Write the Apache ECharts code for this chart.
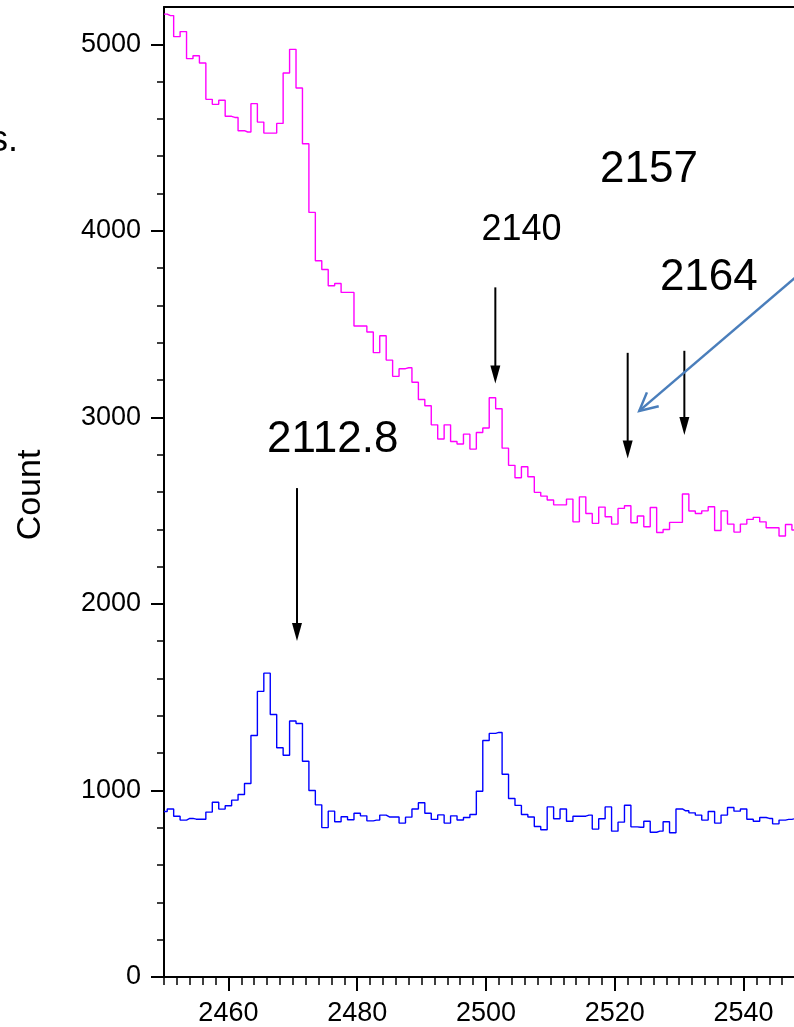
<!DOCTYPE html>
<html>
<head>
<meta charset="utf-8">
<script src="https://cdn.jsdelivr.net/npm/echarts@6/dist/echarts.min.js"></script>
<style>
html,body{margin:0;padding:0;background:#fff;}
#chart{width:794px;height:1027px;}
</style>
</head>
<body>
<div id="chart"></div>
<script>
// ---- data ----
const binStart = 2450; // first channel (bins are 1 channel wide, centred on integers)
const upperCounts = [
 5162,5154,5041,5068,4923,4939,4900,4705,4678,4700,
 4614,4608,4537,4530,4682,4583,4524,4524,4576,4846,
 4973,4766,4467,4099,3840,3793,3706,3718,3670,3670,
 3490,3490,3458,3347,3438,3307,3220,3261,3266,3188,
 3096,3062,2960,2884,2960,2871,2857,2910,2830,2919,
 2943,3105,3046,2835,2743,2676,2735,2682,2598,2578,
 2557,2531,2531,2562,2440,2574,2485,2432,2519,2467,
 2428,2512,2526,2435,2471,2414,2517,2383,2399,2437,
 2437,2589,2498,2485,2499,2521,2394,2499,2428,2385,
 2428,2453,2464,2440,2408,2408,2364,2426,2396
];
const lowerCounts = [
 887,901,862,841,850,846,846,884,937,900,
 918,948,978,1037,1295,1531,1629,1407,1229,1189,
 1372,1359,1157,1000,923,801,889,832,859,843,
 878,864,837,841,868,858,858,825,857,901,
 934,878,845,869,825,864,842,855,871,996,
 1268,1306,1311,1087,957,920,871,858,807,789,
 912,848,901,835,862,862,868,793,848,912,
 782,830,921,805,803,835,776,782,832,773,
 901,891,880,868,841,887,825,868,909,889,
 901,846,835,855,850,821,841,845,849
];
const xMajorTicks = [2460, 2480, 2500, 2520, 2540];
const yMajorTicks = [0, 1000, 2000, 3000, 4000, 5000];
// annotation arrows: [x, y of tail, y of tip] (data units)
const blackArrows = [
  [2470.65, 2621, 1801],
  [2501.45, 3697, 3182],
  [2522.0, 3346, 2780],
  [2530.8, 3357, 2905]
];
// annotation texts: [text, x, y, font size]
const annoTexts = [
  ['2112.8', 2476.2, 2881, 44],
  ['2140', 2505.5, 4005, 36],
  ['2157', 2525.3, 4326, 44],
  ['2164', 2534.6, 3750, 44]
];
const bluePointer = { from: [2560, 4103], to: [2523.8, 3035] };

// ---- build ----
const upperData = upperCounts.map((v, i) => [binStart + i, v]);
const lowerData = lowerCounts.map((v, i) => [binStart + i, v]);
const FONT = 'Liberation Sans, Arial, sans-serif';
const plain = v => String(v);

const chart = echarts.init(document.getElementById('chart'), null, { renderer: 'canvas' });
const option = {
  animation: false,
  backgroundColor: '#fff',
  grid: { left: 164, top: 7, width: 644, height: 970, containLabel: false, outerBoundsMode: 'none' },
  xAxis: [
    { // minor ticks every 2 channels + axis line
      type: 'value', min: 2450, max: 2550, interval: 2, position: 'bottom',
      axisLine: { show: true, onZero: false, lineStyle: { color: '#000', width: 2 } },
      axisTick: { show: true, length: 8, lineStyle: { color: '#000', width: 1.5 } },
      axisLabel: { show: false }, splitLine: { show: false }
    },
    { // major ticks + labels
      type: 'value', min: 2450, max: 2550, interval: 10, position: 'bottom',
      axisLine: { show: false, onZero: false },
      axisTick: { show: true, length: 14, customValues: xMajorTicks, lineStyle: { color: '#000', width: 2 } },
      axisLabel: { show: true, customValues: xMajorTicks, formatter: plain, margin: 23, fontSize: 27, fontFamily: FONT, color: '#000' },
      splitLine: { show: false }
    },
    { // top frame line
      type: 'value', min: 2450, max: 2550, position: 'top',
      axisLine: { show: true, onZero: false, lineStyle: { color: '#000', width: 2 } },
      axisTick: { show: false }, axisLabel: { show: false }, splitLine: { show: false }
    }
  ],
  yAxis: [
    {
      type: 'value', min: 0, max: 5200, interval: 1000, position: 'left',
      axisLine: { show: true, onZero: false, lineStyle: { color: '#000', width: 2 } },
      axisTick: { show: true, length: 13, customValues: yMajorTicks, lineStyle: { color: '#000', width: 2 } },
      minorTick: { show: true, splitNumber: 5, length: 7, lineStyle: { color: '#000', width: 1.5 } },
      axisLabel: { show: true, customValues: yMajorTicks, formatter: plain, margin: 23, fontSize: 27, fontFamily: FONT, color: '#000' },
      splitLine: { show: false }
    }
  ],
  series: [
    {
      type: 'line', step: 'middle', data: upperData, showSymbol: false, symbol: 'none',
      xAxisIndex: 0, yAxisIndex: 0,
      lineStyle: { color: '#ff00ff', width: 1.4 }, silent: true
    },
    {
      type: 'line', step: 'middle', data: lowerData, showSymbol: false, symbol: 'none',
      xAxisIndex: 0, yAxisIndex: 0,
      lineStyle: { color: '#0000ff', width: 1.4 }, silent: true
    }
  ]
};
chart.setOption(option);

// annotations placed through the chart's own coordinate conversion
function px(x, y) { return chart.convertToPixel({ xAxisIndex: 0, yAxisIndex: 0 }, [x, y]); }
const els = [];
blackArrows.forEach(a => {
  const p0 = px(a[0], a[1]);
  const tip = px(a[0], a[2]);
  const headH = 18, headW = 10;
  els.push({ type: 'line', silent: true, shape: { x1: p0[0], y1: p0[1], x2: tip[0], y2: tip[1] - headH + 2 },
    style: { stroke: '#000', lineWidth: 2 } });
  els.push({ type: 'polygon', silent: true,
    shape: { points: [[tip[0] - headW / 2, tip[1] - headH], [tip[0] + headW / 2, tip[1] - headH], [tip[0], tip[1]]] },
    style: { fill: '#000' } });
});
(function () {
  const a = px(bluePointer.from[0], bluePointer.from[1]);
  const t = px(bluePointer.to[0], bluePointer.to[1]);
  const ang = Math.atan2(a[1] - t[1], a[0] - t[0]);
  const armL = 20, spread = 27 * Math.PI / 180;
  const arm1 = [t[0] + armL * Math.cos(ang - spread), t[1] + armL * Math.sin(ang - spread)];
  const arm2 = [t[0] + armL * Math.cos(ang + spread), t[1] + armL * Math.sin(ang + spread)];
  els.push({ type: 'line', silent: true, shape: { x1: a[0], y1: a[1], x2: t[0], y2: t[1] },
    style: { stroke: '#4a7ebb', lineWidth: 2.5 } });
  els.push({ type: 'polyline', silent: true, shape: { points: [arm1, t, arm2] },
    style: { stroke: '#4a7ebb', lineWidth: 2.5, fill: null, lineJoin: 'miter' } });
})();
annoTexts.forEach(t => {
  const p = px(t[1], t[2]);
  els.push({ type: 'text', silent: true, x: p[0], y: p[1],
    style: { text: t[0], fontSize: t[3], fontFamily: FONT, fill: '#000', align: 'center', verticalAlign: 'middle' } });
});
// y axis title
els.push({ type: 'text', silent: true, x: 31, y: 495, rotation: Math.PI / 2,
  style: { text: 'Count', fontSize: 34, fontFamily: FONT, fill: '#000', align: 'center', verticalAlign: 'middle' } });
// cropped fragment of text at the left edge
els.push({ type: 'text', silent: true, x: 18, y: 141,
  style: { text: 's.', fontSize: 36, fontFamily: FONT, fill: '#000', align: 'right', verticalAlign: 'middle' } });

chart.setOption({ graphic: { elements: els } });
</script>
</body>
</html>
